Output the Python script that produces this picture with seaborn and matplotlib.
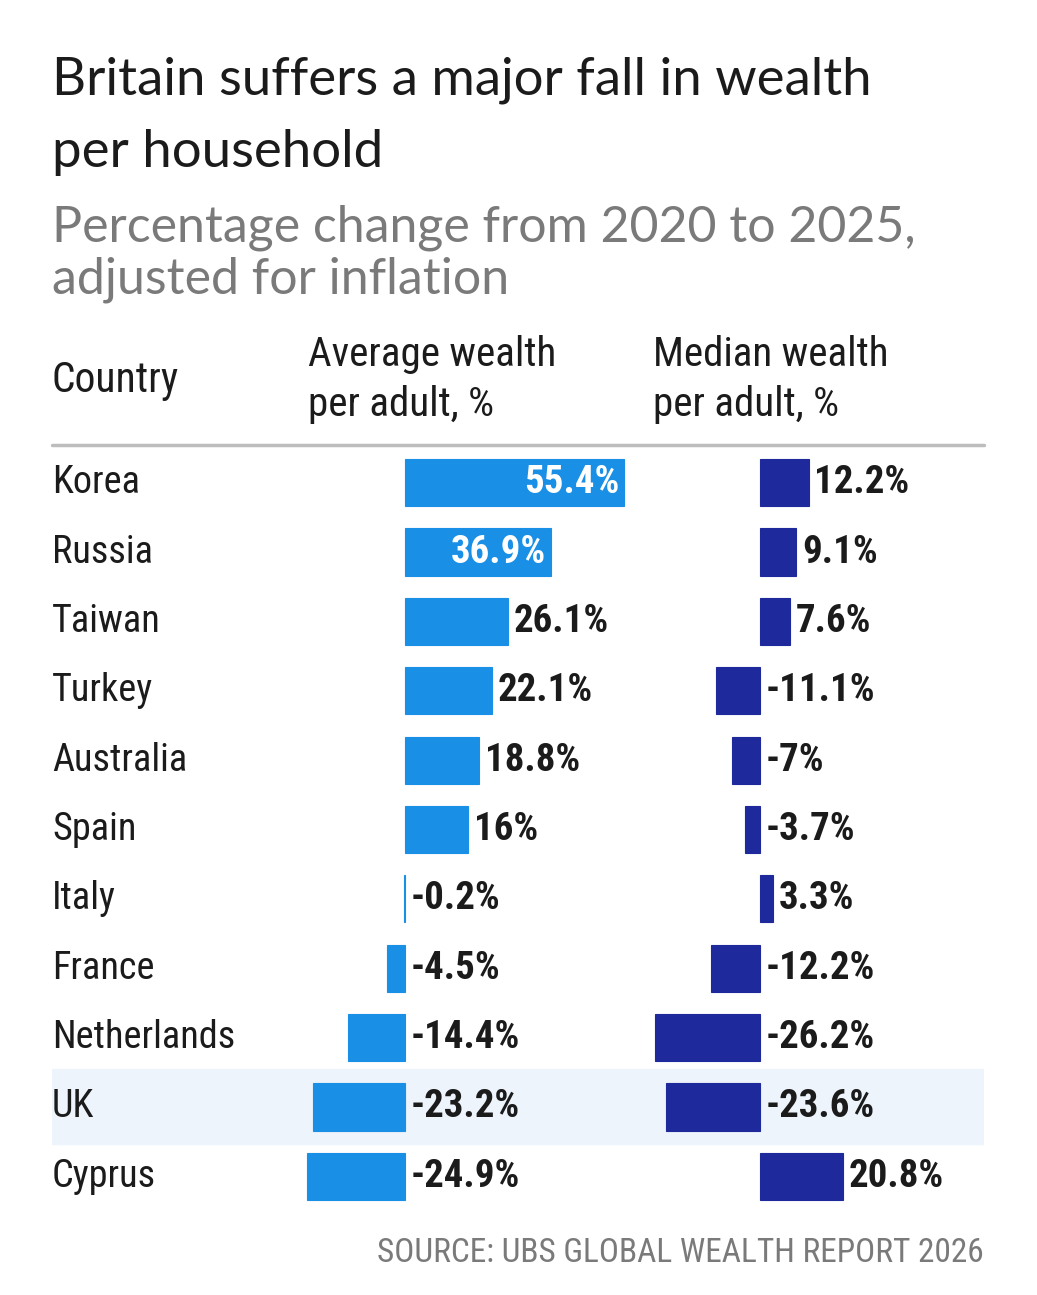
import matplotlib
matplotlib.use("Agg")
import matplotlib.pyplot as plt
from matplotlib import font_manager
import pandas as pd
import seaborn as sns

countries = ["Korea", "Russia", "Taiwan", "Turkey", "Australia", "Spain",
             "Italy", "France", "Netherlands", "UK", "Cyprus"]
avg_change = [55.4, 36.9, 26.1, 22.1, 18.8, 16.0, -0.2, -4.5, -14.4, -23.2, -24.9]
avg_labels = ["55.4%", "36.9%", "26.1%", "22.1%", "18.8%", "16%",
              "-0.2%", "-4.5%", "-14.4%", "-23.2%", "-24.9%"]
# median bars as drawn in the source graphic
med_change = [12.2, 9.1, 7.6, -11.1, -7.0, -3.7, 3.3, -12.2, -26.2, -23.6, 20.8]
med_labels = ["12.2%", "9.1%", "7.6%", "-11.1%", "-7%", "-3.7%",
              "3.3%", "-12.2%", "-26.2%", "-23.6%", "20.8%"]
highlight = "UK"

AVG_COLOR = "#1a8fe6"
MED_COLOR = "#1e2a9b"
BAND_COLOR = "#edf4fc"
INK = "#1b1b1b"

available = {f.name for f in font_manager.fontManager.ttflist}


def pick(cands):
    for c in cands:
        if c in available:
            return c
    return "DejaVu Sans"


NARROW = pick(["Roboto Condensed", "Liberation Sans Narrow", "Open Sans Condensed", "DejaVu Sans"])
TITLE = pick(["Lato", "Inter", "Noto Sans", "DejaVu Sans"])

sns.set_theme(style="white")
plt.rcParams["font.family"] = [NARROW, "DejaVu Sans"]

W, H = 1037, 1295
fig = plt.figure(figsize=(W / 100, H / 100), dpi=100)
fig.patch.set_facecolor("white")


def fx(px):
    return px / W


def fy(py):
    return 1 - py / H


def add_ax(left, right, top, bottom):
    return fig.add_axes([fx(left), fy(bottom), fx(right) - fx(left), fy(top) - fy(bottom)])


top_px, bot_px = 448, 1211
n = len(countries)

# background: row highlight, country names, rule
bg = add_ax(52, 984, top_px, bot_px)
bg.set_xlim(0, 1)
bg.set_ylim(n - 0.5, -0.5)
bg.set_axis_off()
hi = countries.index(highlight)
bg.axhspan(hi - 0.54, hi + 0.54, color=BAND_COLOR, zorder=0)
bg.axhline(-0.55, color="#bdbdbd", lw=2.5, clip_on=False)
for i, c in enumerate(countries):
    bg.text(0.0, i, c, ha="left", va="center", fontsize=27.5, color=INK)

df = pd.DataFrame({"country": countries, "avg": avg_change, "med": med_change})

panels = [
    ("avg", avg_labels, AVG_COLOR, (290, 640), (-29.1, 59.5)),
    ("med", med_labels, MED_COLOR, (640, 985), (-30.0, 56.25)),
]
for col, labels, color, (l, r), xlim in panels:
    ax = add_ax(l, r, top_px, bot_px)
    ax.patch.set_alpha(0)
    sns.barplot(data=df, x=col, y="country", order=countries, orient="h",
                color=color, width=0.68, saturation=1, edgecolor=color,
                linewidth=0.8, ax=ax)
    ax.set_xlim(*xlim)
    ax.set_ylim(n - 0.5, -0.5)
    ax.set_axis_off()
    for i, (v, lab) in enumerate(zip(df[col], labels)):
        if v > 30:
            ax.text(v - 1.2, i, lab, ha="right", va="center", color="white",
                    fontsize=28, fontweight="bold")
        else:
            ax.text(max(v, 0) + 1.4, i, lab, ha="left", va="center", color=INK,
                    fontsize=28, fontweight="bold")

# titles and headers
title_fam = [TITLE, "DejaVu Sans"]
fig.text(fx(52), fy(80), "Britain suffers a major fall in wealth", family=title_fam,
         fontsize=38, color=INK, va="center", ha="left")
fig.text(fx(52), fy(152), "per household", family=title_fam,
         fontsize=38, color=INK, va="center", ha="left")
fig.text(fx(52), fy(228), "Percentage change from 2020 to 2025,", family=title_fam,
         fontsize=36, color="#7a7a7a", va="center", ha="left")
fig.text(fx(52), fy(280), "adjusted for inflation", family=title_fam,
         fontsize=36, color="#7a7a7a", va="center", ha="left")

fig.text(fx(52), fy(380), "Country", fontsize=30, color=INK, va="center", ha="left")
fig.text(fx(308), fy(355), "Average wealth", fontsize=29.5, color=INK, va="center", ha="left")
fig.text(fx(308), fy(405), "per adult, %", fontsize=29.5, color=INK, va="center", ha="left")
fig.text(fx(653), fy(355), "Median wealth", fontsize=29.5, color=INK, va="center", ha="left")
fig.text(fx(653), fy(405), "per adult, %", fontsize=29.5, color=INK, va="center", ha="left")

fig.text(fx(984), fy(1253), "SOURCE: UBS GLOBAL WEALTH REPORT 2026", fontsize=24,
         color="#7a7a7a", va="center", ha="right")

fig.savefig("out.png", dpi=100)
